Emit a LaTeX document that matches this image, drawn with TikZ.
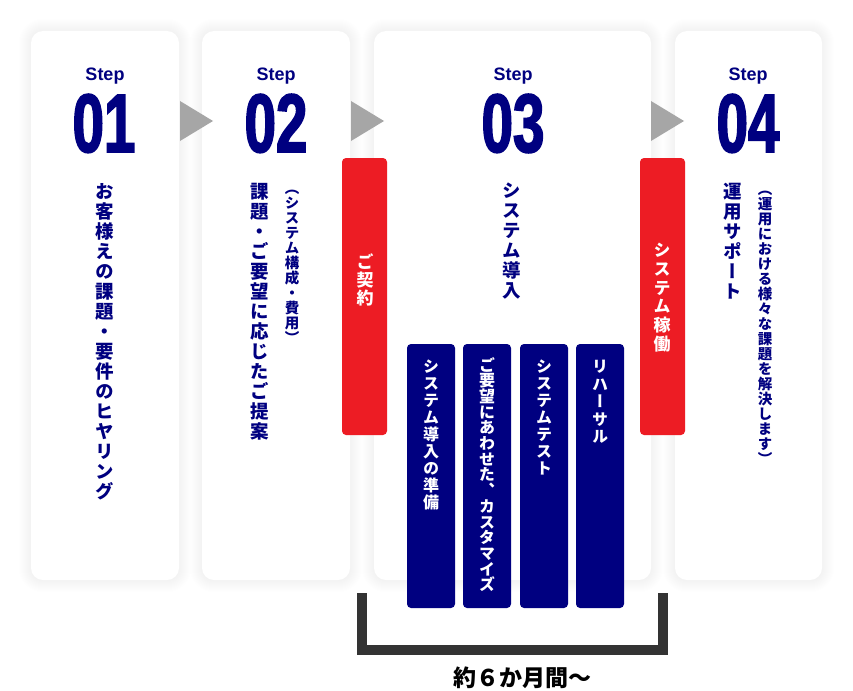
\documentclass[tikz,border=0pt]{standalone}
\usepackage{fontspec}
\usepackage{xcolor}
\setmainfont{Noto Sans CJK JP}
\newfontfamily\vjp[RawFeature={+vert}]{Noto Sans CJK JP}
\newfontfamily\stepfont{Liberation Sans}
\newfontfamily\numfont[FakeStretch=0.68, FakeBold=2]{Liberation Sans}
\usetikzlibrary{shapes.geometric, positioning, backgrounds}

\definecolor{stepnavy}{HTML}{000080}
\definecolor{stepred}{HTML}{ED1C24}
\definecolor{arrowgray}{HTML}{A6A6A6}
\definecolor{bracketgray}{HTML}{333333}

% one character per line, fixed pitch
\newdimen\vpitch
\newcommand{\vtext}[2]{\vpitch=#1\relax\vbox{\offinterlineskip\vtextloop#2\relax}}
\def\vtextloop#1{\ifx\relax#1\else\hbox to 1.1em{\hss\vrule width 0pt height .88\vpitch depth .12\vpitch\smash{#1}\hss}\expandafter\vtextloop\fi}

\begin{document}
\begin{tikzpicture}[x=1pt, y=-1pt]
    \tikzstyle{card} = [rectangle, rounded corners=12pt, fill=white, minimum height=549pt, inner sep=0pt]
    \tikzstyle{redbox} = [rectangle, rounded corners=4pt, fill=stepred, minimum width=45pt, minimum height=277pt, inner sep=0pt]
    \tikzstyle{taskbox} = [rectangle, rounded corners=4pt, fill=stepnavy, minimum width=48pt, minimum height=264pt, inner sep=0pt]
    \tikzstyle{steplabel} = [anchor=base, inner sep=0pt, text=stepnavy, font=\stepfont\bfseries\fontsize{18}{18}\selectfont]
    \tikzstyle{stepnum} = [anchor=base, inner sep=0pt, text=stepnavy, font=\numfont\bfseries\fontsize{83}{83}\selectfont]
    \tikzstyle{vlabel} = [anchor=north, inner sep=0pt, text=stepnavy, font=\vjp\bfseries\fontsize{18.5}{20}\selectfont]
    \tikzstyle{vnote} = [vlabel, font=\vjp\bfseries\fontsize{14.5}{15}\selectfont]
    \tikzstyle{vwhite} = [vlabel, text=white, font=\vjp\bfseries\fontsize{16}{17}\selectfont]
    \tikzstyle{steparrow} = [fill=arrowgray]
    \tikzstyle{span} = [bracketgray, line width=10pt]

    \useasboundingbox (0,0) rectangle (853,690);

    % cards
    \node[card, minimum width=148pt] (card1) at (105,305.5) {};
    \node[card, minimum width=148pt] (card2) at (276,305.5) {};
    \node[card, minimum width=277pt] (card3) at (512.5,305.5) {};
    \node[card, minimum width=147pt] (card4) at (748.5,305.5) {};

    \begin{scope}[on background layer]
        \fill[white] (0,0) rectangle (853,690);
        \foreach \c in {card1,card2,card3,card4}
            \foreach \s in {1,...,12}
                \fill[black, opacity=0.005, rounded corners={12+\s}] ([shift={(-\s,-\s)}]\c.north west) rectangle ([shift={(\s,\s)}]\c.south east);
    \end{scope}

    % arrows between steps
    \fill[steparrow] (180,101) -- (213,121) -- (180,141) -- cycle;
    \fill[steparrow] (351,101) -- (384,121) -- (351,141) -- cycle;
    \fill[steparrow] (651,101) -- (684,121) -- (651,141) -- cycle;

    % step headers
    \node[steplabel] (step1) at (105,81) {Step};
    \node[steplabel] (step2) at (276,81) {Step};
    \node[steplabel] (step3) at (513,81) {Step};
    \node[steplabel] (step4) at (748,81) {Step};
    \node[stepnum] (num1) at (104,152) {01};
    \node[stepnum] (num2) at (276,152) {02};
    \node[stepnum] (num3) at (513,152) {03};
    \node[stepnum] (num4) at (748,152) {04};

    % step texts
    \node[vlabel] (hearing) at (105,181) {\vtext{20pt}{お客様えの課題・要件のヒヤリング}};
    \node[vlabel] (proposal) at (260,181) {\vtext{20pt}{課題・ご要望に応じたご提案}};
    \node[vnote] (proposalnote) at (292,180) {\vtext{15pt}{（システム構成・費用）}};
    \node[vlabel] (install) at (512,180) {\vtext{20pt}{システム導入}};
    \node[vlabel] (support) at (733,181) {\vtext{20pt}{運用サポート}};
    \node[vnote] (supportnote) at (765,181) {\vtext{15pt}{（運用における様々な課題を解決します）}};

    % milestones
    \node[redbox] (contract) at (364.5,296.5) {};
    \node[redbox] (golive) at (662.5,296.5) {};
    \node[vwhite, font=\vjp\bfseries\fontsize{17}{18}\selectfont] at (365,252) {\vtext{18pt}{ご契約}};
    \node[vwhite, font=\vjp\bfseries\fontsize{17}{18}\selectfont] at (662,240) {\vtext{18.7pt}{システム稼働}};

    % install tasks
    \node[taskbox] (prep) at (431,476) {};
    \node[taskbox] (custom) at (487,476) {};
    \node[taskbox] (test) at (544,476) {};
    \node[taskbox] (rehearsal) at (600,476) {};
    \node[vwhite] at (prep.north |- 0,357) {\vtext{17pt}{システム導入の準備}};
    \node[vwhite] at (custom.north |- 0,357) {\vtext{15.7pt}{ご要望にあわせた、カスタマイズ}};
    \node[vwhite] at (test.north |- 0,357) {\vtext{17pt}{システムテスト}};
    \node[vwhite] at (rehearsal.north |- 0,357) {\vtext{17.5pt}{リハーサル}};

    % period bracket
    \coordinate (spanL) at (362,593);
    \coordinate (spanR) at (663,593);
    \draw[span] (spanL) -- ++(0,57) -| (spanR);
    \node[font=\bfseries\fontsize{23}{23}\selectfont] (period) at (522,678) {約６か月間～};
\end{tikzpicture}
\end{document}
